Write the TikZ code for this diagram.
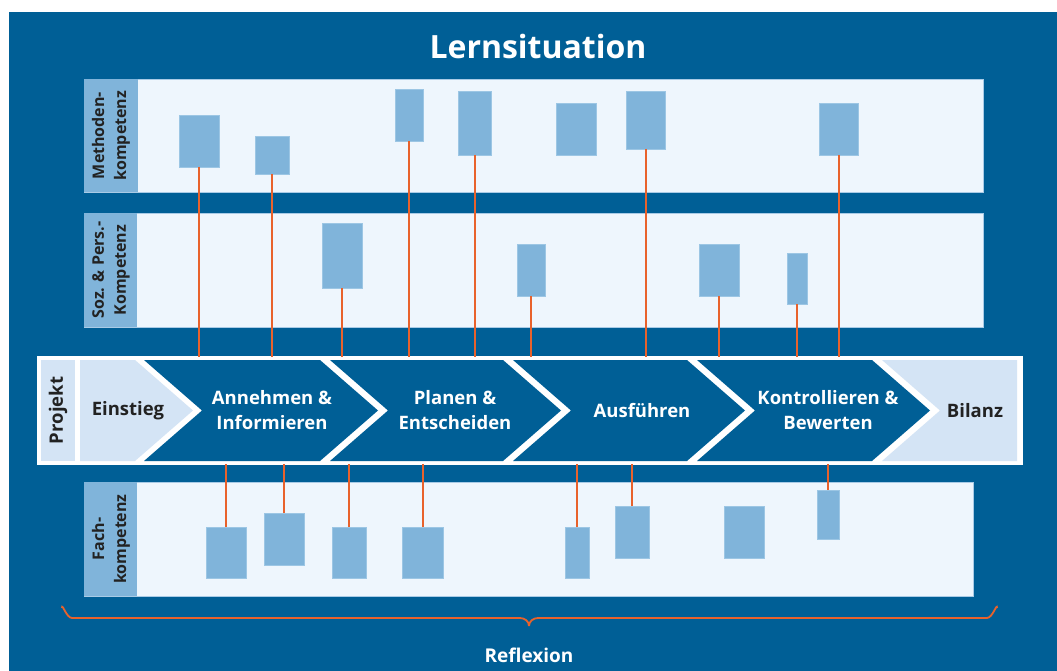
\documentclass[tikz,border=0pt]{standalone}
\usepackage{fontspec}
\setmainfont{Open Sans}
\definecolor{bgblue}{HTML}{005F96}
\definecolor{panel}{HTML}{EEF6FD}
\definecolor{panelline}{HTML}{A9CBE6}
\definecolor{strip}{HTML}{80B4DA}
\definecolor{boxline}{HTML}{9CC6E4}
\definecolor{lightb}{HTML}{D4E4F5}
\definecolor{orng}{HTML}{E8622C}
\definecolor{darktxt}{HTML}{222222}
\begin{document}
\begin{tikzpicture}[x=1pt,y=-1pt,
  panelbox/.style={fill=panel,draw=panelline,line width=0.8pt},
  stripbox/.style={fill=strip},
  kbox/.style={fill=strip,draw=boxline,line width=0.6pt,inner sep=0pt,outer sep=0pt},
  conn/.style={draw=orng,line width=2pt},
  chev/.style={fill=bgblue},
  lchev/.style={fill=lightb},
  chevtxt/.style={text=white,font=\fontsize{18.5}{25}\selectfont\bfseries,align=center,inner sep=0pt},
  darkchevtxt/.style={text=darktxt,font=\fontsize{18.5}{25}\selectfont\bfseries,align=center,inner sep=0pt},
  striptxt/.style={text=darktxt,font=\fontsize{16}{22}\selectfont\bfseries,align=center,rotate=90,inner sep=0pt},
  titletxt/.style={text=white,font=\fontsize{32}{38}\selectfont\bfseries,inner sep=0pt}
]
\useasboundingbox (0,0) rectangle (1057,671);
\fill[white] (0,0) rectangle (1057,671);
\fill[bgblue] (9,12) rectangle (1057,671);

% title
\node[titletxt] (title) at (538,47) {Lernsituation};

% panels
\path[panelbox] (84,79) rectangle (983,192);
\path[stripbox] (84.4,79.4) rectangle (138,191.6);
\node[striptxt] (lm) at (111,135.5) {Methoden-\\kompetenz};

\path[panelbox] (84,213) rectangle (983,327);
\path[stripbox] (84.4,213.4) rectangle (137,326.6);
\node[striptxt] (ls) at (111,270) {Soz. \& Pers.-\\Kompetenz};

\path[panelbox] (84,482) rectangle (973,596);
\path[stripbox] (84.4,482.4) rectangle (137,595.6);
\node[striptxt] (lf) at (111,539) {Fach-\\kompetenz};

% project frame
\fill[white] (37,356) rectangle (1023,465);
\fill[lightb] (41,360) rectangle (75,461);
\node[striptxt,font=\fontsize{18.5}{24}\selectfont\bfseries] (lp) at (58,410.5) {Projekt};

\path[lchev] (80,360) -- (135,360) -- (193,410.5) -- (135,461) -- (80,461) -- cycle;
\path[chev] (144,360) -- (320,360) -- (378,410.5) -- (320,461) -- (144,461) -- (202,410.5) -- cycle;
\path[chev] (330,360) -- (503,360) -- (561,410.5) -- (503,461) -- (330,461) -- (388,410.5) -- cycle;
\path[chev] (513,360) -- (687,360) -- (745,410.5) -- (687,461) -- (513,461) -- (571,410.5) -- cycle;
\path[chev] (697,360) -- (872,360) -- (930,410.5) -- (872,461) -- (697,461) -- (755,410.5) -- cycle;
\path[lchev] (882,360) -- (1017,360) -- (1017,461) -- (882,461) -- (940,410.5) -- cycle;

\node[darkchevtxt] (t0) at (128,410.5) {Einstieg};
\node[chevtxt] (t1) at (272,410.5) {Annehmen \&\\Informieren};
\node[chevtxt] (t2) at (455,410.5) {Planen \&\\Entscheiden};
\node[chevtxt] (t3) at (642,411) {Ausführen};
\node[chevtxt] (t4) at (828,410.5) {Kontrollieren \&\\Bewerten};
\node[darkchevtxt] (t5) at (975,410.5) {Bilanz};

\coordinate (ftop) at (0,357);
\coordinate (fbot) at (0,464);

% Methoden boxes
\node[kbox,minimum width=40pt,minimum height=52pt] (m1) at (199,141) {};
\node[kbox,minimum width=34pt,minimum height=38pt] (m2) at (272,155) {};
\node[kbox,minimum width=28pt,minimum height=52pt] (m3) at (409,115) {};
\node[kbox,minimum width=33pt,minimum height=64pt] (m4) at (474.5,123) {};
\node[kbox,minimum width=40pt,minimum height=52pt] (m5) at (576,129) {};
\node[kbox,minimum width=39pt,minimum height=58pt] (m6) at (645.5,120) {};
\node[kbox,minimum width=39pt,minimum height=52pt] (m7) at (838.5,129) {};
% Soz boxes
\node[kbox,minimum width=40pt,minimum height=65pt] (s1) at (342,255.5) {};
\node[kbox,minimum width=28pt,minimum height=52pt] (s2) at (531,270) {};
\node[kbox,minimum width=40pt,minimum height=52pt] (s3) at (719,270) {};
\node[kbox,minimum width=20pt,minimum height=51pt] (s4) at (797,278.5) {};
% Fach boxes
\node[kbox,minimum width=40pt,minimum height=51pt] (f1) at (226,552.5) {};
\node[kbox,minimum width=40pt,minimum height=52pt] (f2) at (284,539) {};
\node[kbox,minimum width=34pt,minimum height=51pt] (f3) at (349,552.5) {};
\node[kbox,minimum width=41pt,minimum height=51pt] (f4) at (423,552.5) {};
\node[kbox,minimum width=24pt,minimum height=51pt] (f5) at (577,552.5) {};
\node[kbox,minimum width=34pt,minimum height=52pt] (f6) at (632,532) {};
\node[kbox,minimum width=40pt,minimum height=52pt] (f7) at (744,532) {};
\node[kbox,minimum width=22pt,minimum height=49pt] (f8) at (828,514.5) {};

% connectors
\foreach \n in {m1,m2,m3,m4,m6,m7,s1,s2,s3,s4}{
  \draw[conn] (\n.south) -- (\n.south |- ftop);
}
\foreach \n in {f1,f2,f3,f4,f5,f6,f8}{
  \draw[conn] (\n.north) -- (\n.north |- fbot);
}

% brace
\coordinate (bl) at (62,608);
\coordinate (bm) at (529,626);
\coordinate (br) at (997,608);
\draw[orng,line width=1.8pt]
  (bl) to[out=90,in=180] ++(10,10) -- (520,618) to[out=0,in=90] (bm)
  (bm) to[out=90,in=180] (538,618) -- (987,618) to[out=0,in=90] (br);
\node[titletxt,font=\fontsize{19}{24}\selectfont\bfseries] (refl) at (529,655) {Reflexion};
\end{tikzpicture}
\end{document}
